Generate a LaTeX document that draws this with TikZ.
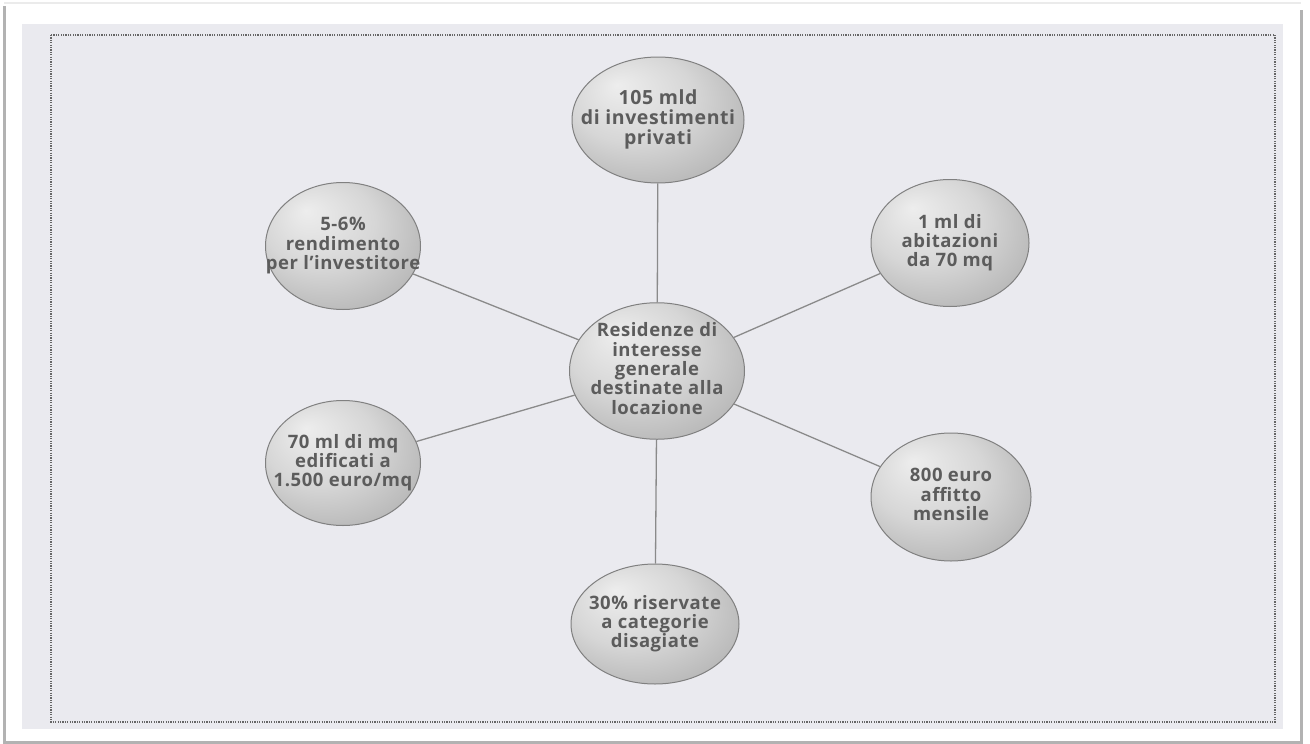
\documentclass[tikz,border=0pt]{standalone}
\usepackage{fontspec}
\setmainfont{Open Sans}[LetterSpace=3]
\usetikzlibrary{shapes.geometric}
\definecolor{paper}{HTML}{EAEAEF}
\definecolor{txt}{HTML}{5C5C5C}
\definecolor{rim}{HTML}{808080}
\definecolor{linec}{HTML}{8A8A8A}
\pgfdeclareradialshading{bubble}{\pgfpoint{-12bp}{14bp}}{%
  color(0bp)=(white!93!black);
  color(18bp)=(white!84!black);
  color(40bp)=(white!66!black);
  color(50bp)=(white!57!black)}
\newcommand\bubtext[1]{\makebox[0pt][c]{\begin{tabular}{@{}c@{}}#1\end{tabular}}}
\tikzset{
  bub/.style={ellipse, draw=rim, line width=1pt, shading=bubble,
    text=txt, inner sep=0pt,
    font=\fontsize{18.5}{17.5}\selectfont\bfseries},
  conn/.style={draw=linec, line width=1.3pt},
  frame/.style={draw=black!60, line width=2.4pt, dash pattern=on 1.2pt off 1.2pt}
}
\begin{document}
\begin{tikzpicture}[x=1pt,y=-1pt]
\useasboundingbox (0,0) rectangle (1310,744);
\fill[white] (0,0) rectangle (1310,744);
% page shadow edges
\draw[line width=3pt, draw=black!30] (4,6) -- (4,742) -- (1301,742) -- (1301,10);
\draw[line width=2pt, draw=black!8] (4,3) -- (1301,3);
% paper
\fill[paper] (22,24) rectangle (1283,729);
\draw[frame] (51,35) rectangle (1275,722);
% nodes
\node[bub, minimum width=175pt, minimum height=126pt] (C) at (657,371)
  {\bubtext{Residenze di\\interesse\\generale\\destinate alla\\locazione}};
\node[bub, minimum width=172pt, minimum height=126pt,
  font=\fontsize{19.5}{18.5}\selectfont\bfseries] (T) at (658,120)
  {\bubtext{105 mld\\di investimenti\\privati}};
\node[bub, minimum width=155pt, minimum height=127pt] (TL) at (343,246)
  {\bubtext{5-6\%\\rendimento\\per l’investitore}};
\node[bub, minimum width=158pt, minimum height=127pt] (TR) at (950,243)
  {\bubtext{1 ml di\\abitazioni\\da 70 mq}};
\node[bub, minimum width=155pt, minimum height=125pt] (BL) at (343,463)
  {\bubtext{70 ml di mq\\edificati a\\1.500 euro/mq}};
\node[bub, minimum width=160pt, minimum height=128pt] (BR) at (951,497)
  {\bubtext{800 euro\\affitto\\mensile}};
\node[bub, minimum width=168pt, minimum height=120pt] (B) at (655,624)
  {\bubtext{30\% riservate\\a categorie\\disagiate}};
% connectors
\draw[conn] (C) -- (T);
\draw[conn] (C) -- (TL);
\draw[conn] (C) -- (TR);
\draw[conn] (C) -- (BL);
\draw[conn] (C) -- (BR);
\draw[conn] (C) -- (B);
\end{tikzpicture}
\end{document}
